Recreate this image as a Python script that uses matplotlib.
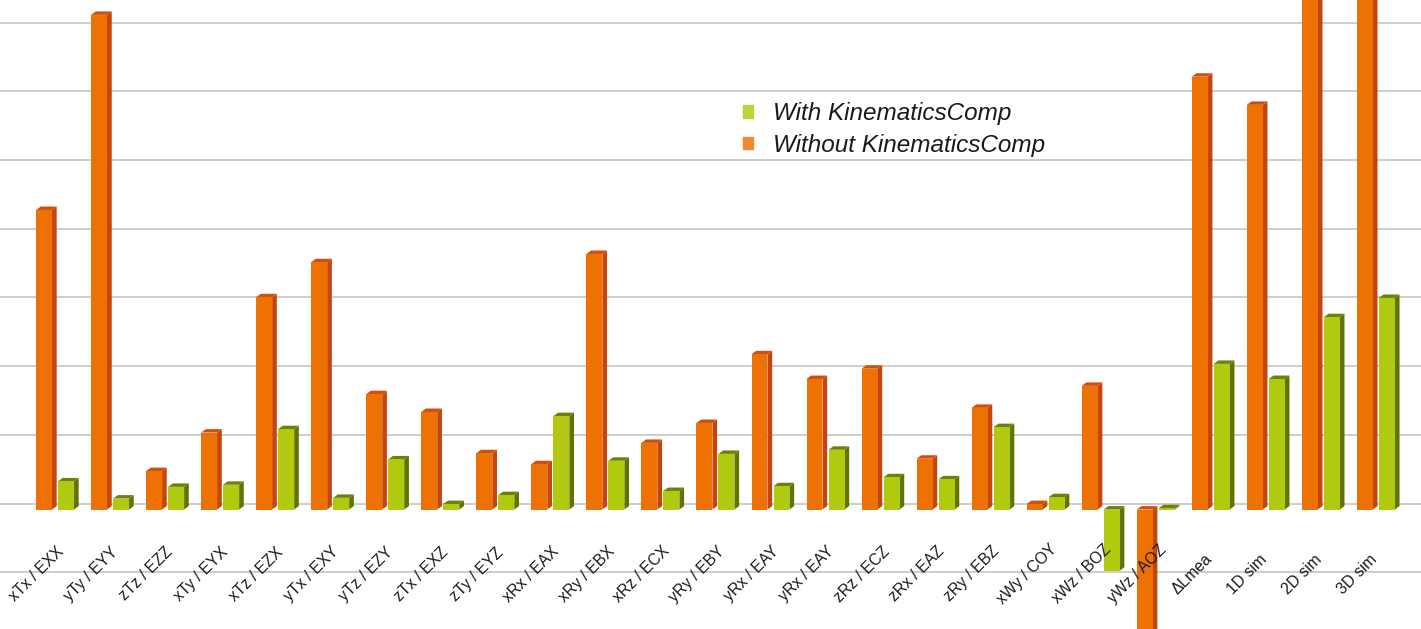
import matplotlib
matplotlib.use("Agg")
import matplotlib.pyplot as plt
from matplotlib.patches import Polygon, Patch
import numpy as np

plt.rcParams['font.family'] = ['Liberation Sans', 'DejaVu Sans']

# 数据：误差项名称与两组数值（单位为网格间距）
categories = ["xTx / EXX", "yTy / EYY", "zTz / EZZ", "xTy / EYX", "xTz / EZX",
              "yTx / EXY", "yTz / EZY", "zTx / EXZ", "zTy / EYZ", "xRx / EAX",
              "xRy / EBX", "xRz / ECX", "yRy / EBY", "yRx / EAY", "yRx / EAY",
              "zRz / ECZ", "zRx / EAZ", "zRy / EBZ", "xWy / COY", "xWz / BOZ",
              "yWz / AOZ", "ΔLmea", "1D sim", "2D sim", "3D sim"]
without_comp = [4.36, 7.20, 0.56, 1.12, 3.09, 3.60, 1.68, 1.42, 0.82, 0.66,
                3.72, 0.97, 1.26, 2.26, 1.90, 2.05, 0.74, 1.48, 0.08, 1.80,
                -2.0, 6.30, 5.89, 8.2, 8.6]
with_comp = [0.41, 0.16, 0.33, 0.36, 1.17, 0.17, 0.73, 0.08, 0.21, 1.36,
             0.71, 0.27, 0.81, 0.34, 0.87, 0.47, 0.44, 1.20, 0.18, -0.89,
             0.02, 2.12, 1.90, 2.80, 3.08]
legend_labels = ["With KinematicsComp", "Without KinematicsComp"]

fig = plt.figure(figsize=(14.21, 6.29), dpi=100)
ax = fig.add_axes((0, 0, 1, 1))

x = np.arange(len(categories))
width = 0.29
offset = 0.2
dx, dy = 0.085, 0.05   # 立体效果的深度

# 背景网格线（位于后墙，比前面的基线略高）
for k in range(-1, 8):
    ax.axhline(k + 0.087, color="#c0c0c0", lw=1.1, zorder=0)


def bar3d(xs, vals, front, side, top):
    ax.bar(xs, vals, width, color=front, zorder=3, linewidth=0)
    for xc, v in zip(xs, vals):
        x0, x1 = xc - width / 2, xc + width / 2
        ax.add_patch(Polygon([(x1, 0), (x1 + dx, dy), (x1 + dx, v + dy), (x1, v)],
                             closed=True, color=side, lw=0, zorder=2))
        t = max(v, 0)
        ax.add_patch(Polygon([(x0, t), (x0 + dx, t + dy), (x1 + dx, t + dy), (x1, t)],
                             closed=True, color=top, lw=0, zorder=2))


bar3d(x - offset, without_comp, "#ee7203", "#c5450b", "#cf4f0d")
bar3d(x + offset, with_comp, "#b1c90e", "#627400", "#6d800c")

# x 轴标签，45 度旋转
for xc, lab in zip(x, categories):
    ax.text(xc - 0.34, -0.94, lab, rotation=45, rotation_mode="anchor",
            ha="center", va="center", fontsize=11.3, color="#1a1a1a", zorder=5)

ax.set_xlim(-1.0, 24.82)
ax.set_ylim(-1.739, 7.416)
ax.axis("off")

handles = [Patch(color="#bcd23a"), Patch(color="#f08a30")]
leg = fig.legend(handles, legend_labels, loc="upper left",
                 bbox_to_anchor=(743 / 1421, 1 - 102 / 629), frameon=False,
                 borderpad=0, borderaxespad=0, handlelength=0.42, handleheight=0.42,
                 handletextpad=0.82, labelspacing=0.36,
                 prop={"style": "italic", "size": 17.5})
for t in leg.get_texts():
    t.set_color("#1a1a1a")

fig.savefig("out.png", dpi=100)
